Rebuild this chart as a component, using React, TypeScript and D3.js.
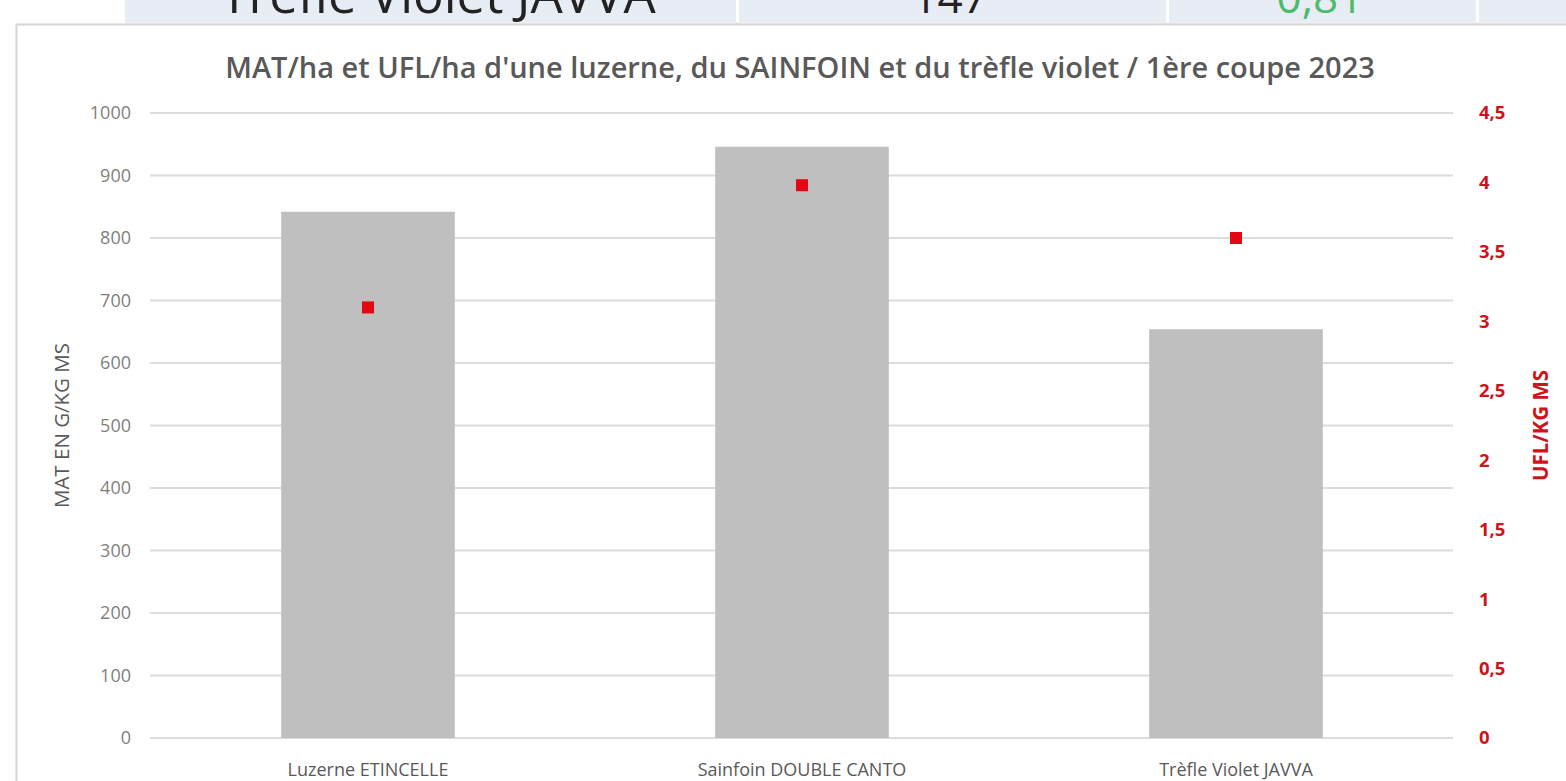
import * as d3 from 'd3';

// chart data
const categories = ['Luzerne ETINCELLE', 'Sainfoin DOUBLE CANTO', 'Trèfle Violet JAVVA'];
const matValues = [842, 946, 654];      // MAT en g/kg MS (bars)
const uflValues = [3.1, 3.98, 3.6];     // UFL/kg MS (red squares)
const leftTicks = [0, 100, 200, 300, 400, 500, 600, 700, 800, 900, 1000];
const rightTicks = [0, 0.5, 1, 1.5, 2, 2.5, 3, 3.5, 4, 4.5];

// table row cut off at the top of the picture
const tableRow = ['Trèfle Violet JAVVA', '147', '0,81'];

const W = 1566;
const H = 781;
const margin = { top: 113, right: 113, bottom: 43, left: 151 };
const font = '"Open Sans", "Noto Sans", sans-serif';

export default function App() {
  const x = d3.scaleBand<string>().domain(categories).range([margin.left, W - margin.right]).paddingInner(0.6).paddingOuter(0.3);
  const yL = d3.scaleLinear().domain([0, 1000]).range([H - margin.bottom, margin.top]);
  const yR = d3.scaleLinear().domain([0, 4.5]).range([H - margin.bottom, margin.top]);
  const x0 = margin.left - 1;
  const x1 = W - margin.right;
  const fmtR = (v: number) => String(v).replace('.', ',');
  const cellX = [125, 737, 1167, 1477];
  const cellCenters = [438, 950, 1320];
  const cellSizes = [51, 44, 44];
  const sq = 12;

  return (
    <svg width={W} height={H} style={{ position: 'absolute', left: 0, top: 0, background: '#fff' }} fontFamily={font}>
      {/* cropped table row */}
      <rect x={cellX[0]} y={0} width={W - cellX[0]} height={22} fill="#e8ecf4" />
      {cellX.slice(1).map((cx) => (
        <rect key={cx} x={cx - 1} y={0} width={3} height={22} fill="#fff" />
      ))}
      <rect x={cellX[0]} y={22} width={W - cellX[0]} height={3} fill="#f0f0f0" />
      {tableRow.map((t, i) => (
        <text key={t} x={cellCenters[i]} y={13} textAnchor="middle" fontSize={cellSizes[i]}
          fill={i === 2 ? '#4cbb6c' : '#222'}>{t}</text>
      ))}

      {/* chart frame */}
      <rect x={16.5} y={24.5} width={W} height={H} fill="#fff" stroke="#d6d6d6" strokeWidth={2} />

      <text x={800} y={78} textAnchor="middle" fontSize={29} fontWeight={600} fill="#595959">
        MAT/ha et UFL/ha d'une luzerne, du SAINFOIN et du trèfle violet / 1ère coupe 2023
      </text>

      {/* grid + left ticks */}
      {leftTicks.map((t) => (
        <g key={t}>
          <line x1={x0} x2={x1} y1={yL(t)} y2={yL(t)} stroke="#dcdcdc" strokeWidth={2} />
          <text x={131} y={yL(t)} dy="0.35em" textAnchor="end" fontSize={18} fill="#7f7f7f">{t}</text>
        </g>
      ))}

      {/* right ticks */}
      {rightTicks.map((t) => (
        <text key={t} x={1479} y={yR(t)} dy="0.35em" textAnchor="start" fontSize={18.5} fontWeight={700} fill="#d0121b">
          {fmtR(t)}
        </text>
      ))}

      {/* bars */}
      {categories.map((c, i) => (
        <rect key={c} x={x(c)} y={yL(matValues[i])} width={x.bandwidth()} height={yL(0) - yL(matValues[i])} fill="#bfbfbf" />
      ))}

      {/* UFL markers */}
      {categories.map((c, i) => (
        <rect key={c + '-pt'} x={(x(c) ?? 0) + x.bandwidth() / 2 - sq / 2} y={yR(uflValues[i]) - sq / 2}
          width={sq} height={sq} fill="#e30613" />
      ))}

      {/* category labels */}
      {categories.map((c) => (
        <text key={c + '-lbl'} x={(x(c) ?? 0) + x.bandwidth() / 2} y={776} textAnchor="middle" fontSize={18} fill="#595959">{c}</text>
      ))}

      {/* axis titles */}
      <text transform={`translate(62,${(yL(0) + yL(1000)) / 2}) rotate(-90)`} textAnchor="middle" dy="0.35em" fontSize={20.5} fill="#595959">
        MAT EN G/KG MS
      </text>
      <text transform={`translate(1541,${(yR(0) + yR(4.5)) / 2}) rotate(-90)`} textAnchor="middle" dy="0.35em" fontSize={20.5} fontWeight={700} fill="#d0121b">
        UFL/KG MS
      </text>
    </svg>
  );
}
